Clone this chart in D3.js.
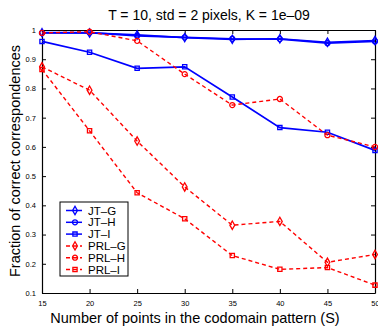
<!DOCTYPE html>
<html>
<head>
<meta charset="utf-8">
<script src="https://cdn.jsdelivr.net/npm/d3@7"></script>
<style>
  body { margin: 0; background: #fff; }
  svg text { font-family: "Liberation Sans", Arial, Helvetica, sans-serif; }
  .tick text { font-size: 7.5px; }
</style>
</head>
<body>
<div id="chart"></div>
<script>
var xValues = [15, 20, 25, 30, 35, 40, 45, 50];
var yTicks = [0.1, 0.2, 0.3, 0.4, 0.5, 0.6, 0.7, 0.8, 0.9, 1];

var jtG = [0.991, 0.990, 0.983, 0.974, 0.968, 0.970, 0.958, 0.964];
var jtH = [0.990, 0.991, 0.980, 0.975, 0.970, 0.969, 0.955, 0.961];
var jtI = [0.961, 0.924, 0.869, 0.874, 0.771, 0.666, 0.650, 0.588];
var prlG = [0.874, 0.794, 0.620, 0.463, 0.332, 0.345, 0.205, 0.232];
var prlH = [0.990, 0.994, 0.963, 0.849, 0.743, 0.764, 0.640, 0.600];
var prlI = [0.865, 0.655, 0.443, 0.354, 0.228, 0.181, 0.187, 0.127];

var seriesNames = ['JT\u2013G', 'JT\u2013H', 'JT\u2013I', 'PRL\u2013G', 'PRL\u2013H', 'PRL\u2013I'];
var seriesValues = [jtG, jtH, jtI, prlG, prlH, prlI];
var seriesColors = ['#0000ff', '#0000ff', '#0000ff', '#ff0000', '#ff0000', '#ff0000'];
var seriesMarkers = ['diamond', 'circle', 'square', 'diamond', 'circle', 'square'];

var W = 378, H = 328;
var margin = { top: 30, left: 42, bottom: 35, right: 3 };

var svg = d3.select('#chart').append('svg')
    .attr('width', W)
    .attr('height', H);

var x = d3.scaleLinear().domain([15, 50]).range([margin.left, W - margin.right]);
var y = d3.scaleLinear().domain([0.1, 1]).range([H - margin.bottom, margin.top]);

// axes with inward ticks (box style)
var fmtY = d => d === 1 ? '1' : d3.format('.1f')(d);
svg.append('g')
    .attr('class', 'axis')
    .attr('transform', 'translate(0,' + y(0.1) + ')')
    .call(d3.axisBottom(x).tickValues(xValues).tickSizeInner(-4).tickSizeOuter(0).tickPadding(8));
svg.append('g')
    .attr('class', 'axis')
    .attr('transform', 'translate(0,' + y(1) + ')')
    .call(d3.axisTop(x).tickValues(xValues).tickSizeInner(-4).tickSizeOuter(0).tickFormat(''));
svg.append('g')
    .attr('class', 'axis')
    .attr('transform', 'translate(' + x(15) + ',0)')
    .call(d3.axisLeft(y).tickValues(yTicks).tickFormat(fmtY).tickSizeInner(-4).tickSizeOuter(0).tickPadding(6));
svg.append('g')
    .attr('class', 'axis')
    .attr('transform', 'translate(' + x(50) + ',0)')
    .call(d3.axisRight(y).tickValues(yTicks).tickSizeInner(-4).tickSizeOuter(0).tickFormat(''));

svg.selectAll('.axis .domain').attr('stroke', '#000').attr('stroke-width', 1.2);
svg.selectAll('.axis .tick line').attr('stroke', '#000');
svg.selectAll('.axis .tick text').attr('fill', '#000');

var symbols = {
    diamond: d3.symbol().type(d3.symbolDiamond).size(20),
    circle: d3.symbol().type(d3.symbolCircle).size(20),
    square: d3.symbol().type(d3.symbolSquare).size(18)
};

var line = d3.line()
    .x((d, i) => x(xValues[i]))
    .y(d => y(d));

seriesValues.forEach(function (vals, s) {
    var dashed = s >= 3;
    svg.append('path')
        .datum(vals)
        .attr('fill', 'none')
        .attr('stroke', seriesColors[s])
        .attr('stroke-width', dashed ? 1.4 : 1.7)
        .attr('stroke-dasharray', dashed ? '4,3' : null)
        .attr('d', line);

    svg.selectAll('.m' + s)
        .data(vals)
        .enter()
        .append('path')
        .attr('class', 'm' + s)
        .attr('transform', (d, i) => 'translate(' + x(xValues[i]) + ',' + y(d) + ')')
        .attr('d', symbols[seriesMarkers[s]])
        .attr('fill', 'none')
        .attr('stroke', seriesColors[s])
        .attr('stroke-width', 1.3);
});

// legend
var lg = svg.append('g').attr('transform', 'translate(60,202)');
lg.append('rect')
    .attr('width', 68)
    .attr('height', 74)
    .attr('fill', '#fff')
    .attr('stroke', '#000')
    .attr('stroke-width', 1);

seriesNames.forEach(function (name, s) {
    var ry = 8.5 + s * 11.8;
    var dashed = s >= 3;
    lg.append('line')
        .attr('x1', 6).attr('x2', 22)
        .attr('y1', ry).attr('y2', ry)
        .attr('stroke', seriesColors[s])
        .attr('stroke-width', 1.5)
        .attr('stroke-dasharray', dashed ? '4,3' : null);
    lg.append('path')
        .attr('transform', 'translate(15,' + ry + ')')
        .attr('d', symbols[seriesMarkers[s]])
        .attr('fill', 'none')
        .attr('stroke', seriesColors[s])
        .attr('stroke-width', 1.3);
    lg.append('text')
        .attr('x', 28)
        .attr('y', ry + 4)
        .attr('font-size', '11.5px')
        .text(name);
});

// titles
svg.append('text')
    .attr('x', 209)
    .attr('y', 20)
    .attr('text-anchor', 'middle')
    .attr('font-size', '14px')
    .text('T = 10, std = 2 pixels, K = 1e\u201309');

svg.append('text')
    .attr('x', 195)
    .attr('y', 323)
    .attr('text-anchor', 'middle')
    .attr('font-size', '14.5px')
    .text('Number of points in the codomain pattern (S)');

svg.append('text')
    .attr('transform', 'translate(20,161) rotate(-90)')
    .attr('text-anchor', 'middle')
    .attr('font-size', '14.5px')
    .text('Fraction of correct correspondences');
</script>
</body>
</html>
